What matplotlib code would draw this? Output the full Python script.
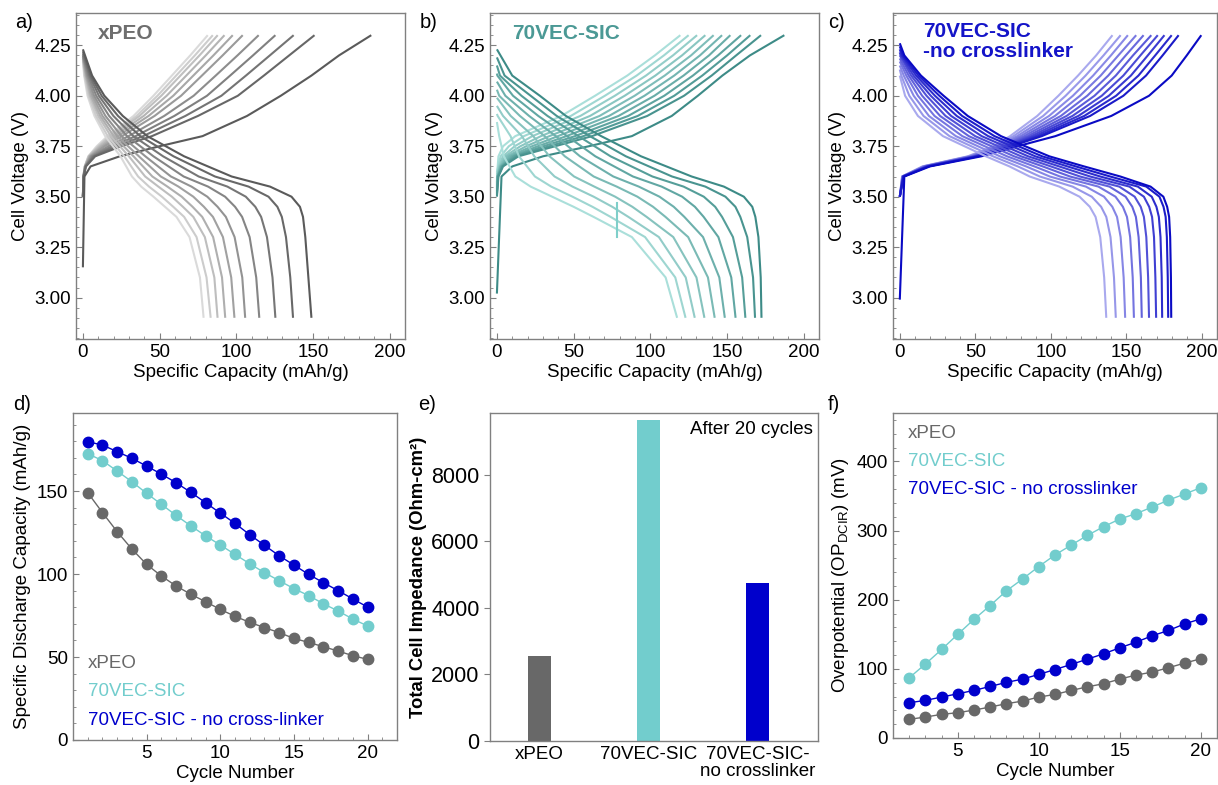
import numpy as np
import matplotlib
matplotlib.use("Agg")
import matplotlib.pyplot as plt
from matplotlib.colors import to_rgb

plt.rcParams['font.family'] = ['Liberation Sans', 'DejaVu Sans']
plt.rcParams['mathtext.fontset'] = 'custom'
plt.rcParams['mathtext.rm'] = 'Liberation Sans'
plt.rcParams['font.size'] = 13.5

N = None

# ---------------- cycling data (panels d, f) ----------------
cycles = list(range(1, 21))
cap_xpeo = [149, 137, 125.5, 115, 105.8, 98.8, 92.8, 87.8, 83.3, 78.7,
            74.5, 70.9, 67.7, 64.7, 61.2, 58.8, 56.2, 53.6, 50.8, 48.6]
cap_vec = [172.5, 168.3, 162, 155.6, 148.6, 142, 135.3, 129, 123, 117.5,
           111.8, 106.2, 100.8, 96, 91.2, 87, 82.1, 77.7, 72.9, 68.7]
cap_nocl = [179.7, 177.7, 173.7, 169.7, 165, 160.2, 155, 149.2, 143, 136.7,
            130.5, 123.7, 117.3, 111, 105.4, 99.8, 94.8, 90, 85, 80.1]

op_cycles = list(range(2, 21))
op_xpeo = [27, 30.3, 34.2, 36.6, 40.4, 44.8, 49.6, 53.4, 59.2, 63,
           68.8, 74, 78.5, 85.2, 91, 95.3, 101.6, 108.3, 114.6]
op_vec = [87, 107, 128, 150, 171.6, 191.6, 212.8, 230, 248, 264.7,
          279, 293, 305.6, 316.7, 324.4, 334, 344, 352.8, 362]
op_nocl = [51, 54.4, 59.2, 64, 68.8, 74.6, 80.4, 85.2, 92, 99,
           106.4, 114, 121.8, 130.4, 138.6, 147.8, 155.5, 165, 172.3]

# ---------------- impedance (panel e) ----------------
imp_labels = ['xPEO', '70VEC-SIC', '70VEC-SIC-\nno crosslinker']
imp_values = [2565, 9654, 4743]

# ---------------- voltage profiles (panels a-c) ----------------
# charge curves: capacity where each curve crosses these voltages, last point at 4.30 V
chg_levels = [3.60, 3.65, 3.70, 3.75, 3.80, 3.90, 4.00, 4.10, 4.20]
chg_top = 4.30
dis_bottom = 2.90

# xPEO
a_dis_levels = [4.10, 4.00, 3.90, 3.80, 3.70, 3.60, 3.55, 3.50, 3.45, 3.40, 3.30, 3.10]
a_dis_start = [4.23, 4.22, 4.21, 4.20, 4.20, 4.19, 4.19, 4.18, 4.18, 4.17]
a_dis_caps = [
    [6, 14, 26, 42, 66, 97, 122, 136, 141.5, 143.5, 145, 147],
    [5.1, 12.2, 22.9, 37.4, 59.1, 86.1, 108, 121, 126.8, 129.7, 132.4, 135.2],
    [4.3, 10.4, 19.9, 32.9, 52.3, 75.5, 94.2, 106.2, 112.4, 116.2, 120, 123.6],
    [3.5, 8.7, 17.1, 28.8, 46, 65.7, 81.6, 92.7, 99.2, 103.8, 108.7, 113],
    [2.8, 7.3, 14.7, 25.2, 40.7, 57.4, 70.8, 81.1, 87.8, 93.2, 98.9, 103.9],
    [2.3, 6.2, 12.8, 22.4, 36.5, 50.8, 62.3, 72, 78.9, 84.8, 91.3, 96.7],
    [1.9, 5.2, 11.3, 20.1, 33, 45.3, 55.1, 64.4, 71.5, 77.8, 84.9, 90.7],
    [1.5, 4.5, 10, 18.2, 30, 40.6, 49.2, 58, 65.2, 72, 79.5, 85.7],
    [1.1, 3.7, 8.6, 16.2, 27, 36, 43.1, 51.5, 58.9, 66, 74.1, 80.6],
    [0.8, 3, 7.5, 14.5, 24.5, 32, 38, 46, 53.5, 61, 69.5, 76.3],
]
a_chg_start = [3.15, 3.50, 3.50, 3.50, 3.50, 3.50, 3.50, 3.50, 3.50, 3.50, 3.50]
a_chg_caps = [
    [1, 5, 24, 50, 78, 107, 129, 149, 167],
    [0.5, 2, 8, 25, 45, 75, 101, 118, 134.5],
    [0.5, 1.8, 7.1, 21.9, 39.3, 66.8, 90.3, 106.3, 121.9],
    [0.4, 1.7, 6.4, 19.1, 34.4, 59.6, 80.9, 96, 110.9],
    [0.4, 1.6, 5.6, 16.6, 29.8, 53, 72.2, 86.6, 100.8],
    [0.4, 1.5, 5, 14.2, 25.5, 46.7, 64, 77.6, 91.1],
    [0.4, 1.4, 4.6, 12.7, 22.8, 42.8, 58.9, 72, 85.1],
    [0.3, 1.3, 4.2, 11.5, 20.6, 39.6, 54.6, 67.4, 80.1],
    [0.3, 1.3, 3.9, 10.5, 18.7, 36.9, 51.1, 63.6, 76],
    [0.3, 1.2, 3.7, 9.8, 17.4, 35, 48.6, 60.8, 73],
    [0.3, 1.2, 3.5, 9, 16, 33, 46, 58, 70],
]
a_chg_end = [188, 151, 137.4, 125.5, 114.6, 104.2, 97.7, 92.3, 87.9, 84.7, 81.4]

# 70VEC-SIC
b_dis_levels = [4.10, 4.00, 3.90, 3.80, 3.70, 3.60, 3.55, 3.50, 3.45, 3.40, 3.30, 3.10]
b_dis_start = [4.23, 4.19, 4.15, 4.11, 4.07, 4.03, 3.99, 3.95, 3.91, 3.87]
b_dis_caps = [
    [10, 28, 45, 68, 94, 127, 148, 161, 166.5, 168.5, 170.5, 172],
    [5, 22, 39, 60.6, 84.1, 114.2, 135.9, 149, 155.5, 158.7, 163.2, 167],
    [2, 16, 33, 53.2, 74.1, 101.4, 121.7, 134.9, 142.3, 146.8, 153.9, 159.9],
    [0.3, 10.5, 27, 45.8, 64.2, 88.7, 107.4, 120.8, 129.1, 134.8, 144.4, 152.8],
    [N, 5.5, 21, 38.4, 54.2, 75.9, 92.5, 106, 115.3, 122.2, 134.4, 145],
    [N, 1.5, 15, 31.1, 44.3, 63.1, 78.1, 91.6, 101.8, 109.9, 124.7, 137.6],
    [N, N, 9, 23.7, 34.3, 50.3, 63.5, 77.1, 88.3, 97.6, 115, 130.1],
    [N, N, 4, 16.3, 24.4, 37.6, 49.3, 63.1, 75.2, 85.7, 105.6, 123.1],
    [N, N, 0.5, 8.9, 14.4, 24.8, 35.4, 49.3, 62.3, 74.1, 96.6, 116.3],
    [N, N, N, 1.5, 4.5, 12, 22, 36, 50, 63, 88, 110],
]
b_chg_start = [3.02, 3.50, 3.51, 3.52, 3.53, 3.54, 3.55, 3.56, 3.57, 3.61, 3.62]
b_chg_caps = [
    [3, 10, 30, 60, 88, 114, 131, 147, 165],
    [1, 4, 14, 38, 62, 98, 122, 140, 156],
    [0.8, 3.6, 12.6, 34.2, 56.4, 91.8, 115.6, 133.9, 150.1],
    [0.6, 3.2, 11.1, 30.4, 50.9, 85.6, 109.1, 127.8, 144.2],
    [0.5, 2.8, 9.7, 26.7, 45.3, 79.3, 102.7, 121.7, 138.3],
    [0.4, 2.4, 8.2, 22.9, 39.8, 73.1, 96.2, 115.6, 132.4],
    [0.3, 2.1, 6.8, 19.1, 34.2, 66.9, 89.8, 109.4, 126.6],
    [0.2, 1.7, 5.3, 15.3, 28.7, 60.7, 83.3, 103.3, 120.7],
    [0.1, 1.3, 3.9, 11.6, 23.1, 54.4, 76.9, 97.2, 114.8],
    [N, 0.9, 2.4, 7.8, 17.6, 48.2, 70.4, 91.1, 108.9],
    [N, 0.5, 1, 4, 12, 42, 64, 85, 103],
]
b_chg_end = [187.4, 172.2, 165.2, 159.2, 152.2, 146.8, 141.3, 135.9, 130.5, 125, 119.6]
b_spike_cap = [78.3, 78.3]
b_spike_v = [3.47, 3.30]

# 70VEC-SIC - no crosslinker
c_dis_levels = [4.20, 4.10, 4.00, 3.90, 3.80, 3.70, 3.65, 3.60, 3.55, 3.50, 3.45, 3.40, 3.30, 3.10]
c_dis_start = [4.26, 4.245, 4.23, 4.215, 4.20, 4.185, 4.17, 4.15, 4.13, 4.10]
c_dis_caps = [
    [3, 14, 29, 45, 67, 99, 122, 146, 166, 174.5, 177, 178.3, 179, 179.5],
    [2, 12.4, 26.2, 41.3, 62.7, 94.3, 116.5, 139.3, 163.2, 171.9, 174.6, 176, 176.8, 177.4],
    [1.2, 10.8, 23.3, 37.7, 58.5, 89.7, 111, 132.7, 157.6, 166.8, 169.9, 171.5, 172.6, 173.4],
    [0.5, 9.1, 20.5, 34, 54.2, 85, 105.5, 126, 152, 161.6, 165.1, 167, 168.3, 169.2],
    [N, 7.5, 17.7, 30.3, 49.9, 80.3, 100, 119.3, 145.3, 155.5, 159.5, 161.6, 163.2, 164.4],
    [N, 5.9, 14.8, 26.7, 45.7, 75.7, 94.6, 112.7, 138.8, 149.5, 153.9, 156.3, 158.1, 159.6],
    [N, 4.3, 12, 23, 41.4, 71, 89.1, 106, 131.5, 142.8, 147.7, 150.4, 152.5, 154.2],
    [N, 2.6, 9.2, 19.3, 37.1, 66.3, 83.6, 99.3, 123.2, 135.2, 140.7, 143.8, 146.2, 148.2],
    [N, 1, 6.3, 15.7, 32.9, 61.7, 78.1, 92.7, 114.4, 127.1, 133.3, 136.7, 139.5, 141.8],
    [N, N, 3.5, 12, 28.6, 57, 72.6, 86, 105.6, 119, 125.8, 129.6, 132.7, 135.3],
]
c_chg_start = [2.99, 3.50, 3.50, 3.50, 3.50, 3.50, 3.50, 3.50, 3.50, 3.50, 3.50]
c_chg_caps = [
    [3, 20, 54, 78, 103, 140, 165, 180, 190],
    [2.5, 19, 52, 74, 94, 126, 148, 163, 174],
    [2.4, 18.6, 51.2, 72.7, 91.7, 122.1, 143.2, 158, 169.1],
    [2.3, 18.1, 50.4, 71.3, 89.3, 118.2, 138.4, 153, 164.2],
    [2.2, 17.7, 49.7, 70, 87, 114.3, 133.7, 148, 159.3],
    [2.1, 17.2, 48.9, 68.7, 84.7, 110.4, 128.9, 143, 154.4],
    [2, 16.8, 48.1, 67.3, 82.3, 106.6, 124.1, 138, 149.6],
    [1.8, 16.3, 47.3, 66, 80, 102.7, 119.3, 133, 144.7],
    [1.7, 15.9, 46.6, 64.7, 77.7, 98.8, 114.6, 128, 139.8],
    [1.6, 15.4, 45.8, 63.3, 75.3, 94.9, 109.8, 123, 134.9],
    [1.5, 15, 45, 62, 73, 91, 105, 118, 130],
]
c_chg_end = [199.6, 184.6, 180, 175.2, 170.8, 166.5, 161.4, 156.5, 151, 146.2, 140.8]

GREY, CYAN, BLUE = '#686868', '#72cdcd', '#0000cc'
SPINE = '#808080'


def shade(dark, light, t):
    d, l = np.array(to_rgb(dark)), np.array(to_rgb(light))
    return tuple(d + (l - d) * t)


def style(ax):
    for s in ax.spines.values():
        s.set_color(SPINE)
        s.set_linewidth(1.0)
    ax.tick_params(which='both', direction='in', colors='black', labelsize=13.5)
    ax.tick_params(which='both', color=SPINE)
    ax.tick_params(which='major', length=4)
    ax.tick_params(which='minor', length=2)


def profiles(ax, dis_levels, dis_start, dis_caps, dis_end, chg_start, chg_caps, chg_end,
             dark, light, title, tcolor, tpos):
    nc = len(chg_caps)
    for i in reversed(range(nc)):
        col = shade(dark, light, i / (nc - 1))
        pts = [(c, v) for c, v in zip(chg_caps[i], chg_levels) if c is not None]
        x = [0] + [p[0] for p in pts] + [chg_end[i]]
        y = [chg_start[i]] + [p[1] for p in pts] + [chg_top]
        ax.plot(x, y, color=col, lw=1.5, solid_capstyle='butt', solid_joinstyle='round')
    nd = len(dis_caps)
    for i in reversed(range(nd)):
        col = shade(dark, light, i / (nd - 1))
        pts = [(c, v) for c, v in zip(dis_caps[i], dis_levels) if c is not None]
        x = [0] + [p[0] for p in pts] + [dis_end[i]]
        y = [dis_start[i]] + [p[1] for p in pts] + [dis_bottom]
        ax.plot(x, y, color=col, lw=1.5, solid_capstyle='butt', solid_joinstyle='round')
    ax.set_xlim(-4.5, 210)
    ax.set_ylim(2.795, 4.41)
    ax.set_xticks([0, 50, 100, 150, 200])
    ax.set_xticks(np.arange(0, 211, 10), minor=True)
    ax.set_yticks([3.00, 3.25, 3.50, 3.75, 4.00, 4.25])
    ax.set_yticks(np.arange(2.80, 4.41, 0.05), minor=True)
    ax.set_yticklabels(['3.00', '3.25', '3.50', '3.75', '4.00', '4.25'])
    ax.set_xlabel('Specific Capacity (mAh/g)', fontsize=13.5, labelpad=2)
    ax.set_ylabel('Cell Voltage (V)', fontsize=13.5, labelpad=4)
    ax.text(tpos[0], tpos[1], title, transform=ax.transAxes, color=tcolor,
            fontsize=15, fontweight='bold', va='top', ha='left', linespacing=1.05)
    style(ax)


fig = plt.figure(figsize=(12.18, 7.85), dpi=100)
W, H = 1218, 785


def rect(l, r, t, b):
    return [l / W, (H - b) / H, (r - l) / W, (b - t) / H]


ax_a = fig.add_axes(rect(76, 405, 13, 339))
ax_b = fig.add_axes(rect(490, 819, 13, 339))
ax_c = fig.add_axes(rect(893, 1217, 13, 339))
ax_d = fig.add_axes(rect(73, 397, 413, 740))
ax_e = fig.add_axes(rect(490, 818, 413, 741))
ax_f = fig.add_axes(rect(893, 1217, 413, 738))

profiles(ax_a, a_dis_levels, a_dis_start, a_dis_caps, cap_xpeo[:10], a_chg_start, a_chg_caps,
         a_chg_end, '#5a5a5a', '#dadada', 'xPEO', '#6e6e6e', (0.065, 0.965))
profiles(ax_b, b_dis_levels, b_dis_start, b_dis_caps, cap_vec[:10], b_chg_start, b_chg_caps,
         b_chg_end, '#3d8b87', '#aadfda', '70VEC-SIC', '#4b9995', (0.066, 0.965))
ax_b.plot(b_spike_cap, b_spike_v, color='#7fcfca', lw=1.5)
profiles(ax_c, c_dis_levels, c_dis_start, c_dis_caps, cap_nocl[:10], c_chg_start, c_chg_caps,
         c_chg_end, '#0a0ac4', '#a9a9ee', '70VEC-SIC\n-no crosslinker', '#1414c8', (0.094, 0.972))

# ---- panel d ----
for vals, col in [(cap_xpeo, GREY), (cap_vec, CYAN), (cap_nocl, BLUE)]:
    ax_d.plot(cycles, vals, '-o', color=col, lw=1.0, ms=7.5)
ax_d.set_xlim(0, 22)
ax_d.set_ylim(0, 197)
ax_d.set_xticks([5, 10, 15, 20])
ax_d.set_xticks(np.arange(0, 23, 1), minor=True)
ax_d.set_yticks([0, 50, 100, 150])
ax_d.set_yticks(np.arange(0, 197, 10), minor=True)
ax_d.set_xlabel('Cycle Number', fontsize=13.5, labelpad=2)
ax_d.set_ylabel('Specific Discharge Capacity (mAh/g)', fontsize=13.5, labelpad=4)
for txt, col, yy in [('xPEO', GREY, 0.235), ('70VEC-SIC', CYAN, 0.148),
                     ('70VEC-SIC - no cross-linker', BLUE, 0.061)]:
    ax_d.text(0.047, yy, txt, color=col, transform=ax_d.transAxes, fontsize=13.5, va='center')
style(ax_d)

# ---- panel e ----
xe = np.arange(len(imp_labels))
ax_e.bar(xe, imp_values, width=0.21, color=[GREY, CYAN, BLUE])
ax_e.set_xlim(-0.45, 2.55)
ax_e.set_ylim(0, 9860)
ax_e.set_xticks(xe)
ax_e.set_xticklabels(imp_labels, fontsize=13.5, linespacing=1.0)
ax_e.set_yticks([0, 2000, 4000, 6000, 8000])
ax_e.set_ylabel('Total Cell Impedance (Ohm-cm²)', fontsize=13.3, fontweight='bold', labelpad=3)
ax_e.text(0.985, 0.975, 'After 20 cycles', transform=ax_e.transAxes, ha='right', va='top',
          fontsize=13.5)
style(ax_e)
ax_e.tick_params(axis='x', length=0)
ax_e.tick_params(axis='y', direction='out', labelsize=15.5)

# ---- panel f ----
for vals, col in [(op_xpeo, GREY), (op_vec, CYAN), (op_nocl, BLUE)]:
    ax_f.plot(op_cycles, vals, '-o', color=col, lw=1.0, ms=7.5)
ax_f.set_xlim(1, 21)
ax_f.set_ylim(0, 470)
ax_f.set_xticks([5, 10, 15, 20])
ax_f.set_xticks(np.arange(1, 22, 1), minor=True)
ax_f.set_yticks([0, 100, 200, 300, 400])
ax_f.set_yticks(np.arange(0, 471, 20), minor=True)
ax_f.set_xlabel('Cycle Number', fontsize=13.5, labelpad=2)
ax_f.set_ylabel(r'Overpotential (OP$_{\mathrm{DCIR}}$) (mV)', fontsize=13.5, labelpad=4)
for txt, col, yy in [('xPEO', GREY, 0.9375), ('70VEC-SIC', CYAN, 0.85),
                     ('70VEC-SIC - no crosslinker', BLUE, 0.765)]:
    ax_f.text(0.047, yy, txt, color=col, transform=ax_f.transAxes, fontsize=13.5, va='center')
style(ax_f)

# panel letters
for lab, x, y in [('a)', 15, 23), ('b)', 420, 23), ('c)', 828, 23),
                  ('d)', 13, 405), ('e)', 418, 405), ('f)', 828, 405)]:
    fig.text(x / W, 1 - y / H, lab, fontsize=14.5, va='center', ha='left')

fig.savefig('out.png', dpi=100)
